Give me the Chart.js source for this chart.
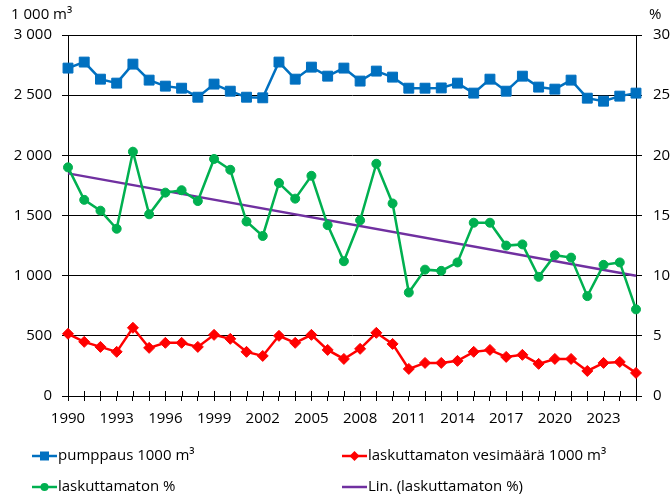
<!DOCTYPE html>
<html>
<head>
<meta charset="utf-8">
<script src="https://cdn.jsdelivr.net/npm/chart.js@4/dist/chart.umd.min.js"></script>
<style>
  html, body { margin: 0; padding: 0; background: #fff; }
  #wrap { width: 670px; height: 496px; position: relative; }
</style>
</head>
<body>
<div id="wrap"><canvas id="waterChart"></canvas></div>
<script>
// ---- data ----
const years = ['1990', '1991', '1992', '1993', '1994', '1995', '1996', '1997', '1998', '1999',
               '2000', '2001', '2002', '2003', '2004', '2005', '2006', '2007', '2008', '2009',
               '2010', '2011', '2012', '2013', '2014', '2015', '2016', '2017', '2018', '2019',
               '2020', '2021', '2022', '2023', '2024', '2025'];

// pumppaus, 1000 m3 (left axis)
const pumppaus = [2725, 2775, 2633, 2600, 2758, 2625, 2575, 2558, 2483, 2592,
                  2533, 2483, 2478, 2775, 2633, 2733, 2658, 2725, 2617, 2700,
                  2650, 2558, 2558, 2560, 2600, 2517, 2633, 2533, 2658, 2567,
                  2550, 2625, 2475, 2450, 2492, 2517];

// laskuttamaton vesimäärä, 1000 m3 (left axis)
const laskuttamatonMaara = [517, 450, 408, 367, 567, 400, 442, 442, 408, 508,
                            475, 367, 333, 500, 442, 508, 383, 308, 392, 525,
                            433, 225, 275, 275, 292, 367, 383, 325, 342, 267,
                            308, 308, 208, 275, 283, 192];

// laskuttamaton %, (right axis)
const laskuttamatonPct = [19.0, 16.3, 15.4, 13.9, 20.3, 15.1, 16.9, 17.1, 16.2, 19.7,
                          18.8, 14.5, 13.3, 17.7, 16.4, 18.3, 14.2, 11.2, 14.6, 19.3,
                          16.0, 8.6, 10.5, 10.4, 11.1, 14.4, 14.4, 12.5, 12.6, 9.9,
                          11.7, 11.5, 8.3, 10.9, 11.1, 7.2];

// linear trend line end points as drawn in the picture (%)
const trendYears = ['1990', '2025'];
const trendPct = [18.5, 10.0];

const leftTicks = [0, 500, 1000, 1500, 2000, 2500, 3000];
const rightTicks = [0, 5, 10, 15, 20, 25, 30];

const FONT = "'Open Sans', 'Noto Sans', sans-serif";
const BLUE = '#0070C0';
const RED = '#FF0000';
const GREEN = '#00B050';
const PURPLE = '#7030A0';

function fmtThousands(v) {
    return String(v).replace(/\B(?=(\d{3})+(?!\d))/g, ' ');
}

// axis unit labels above the plot + legend below it
const extrasPlugin = {
    id: 'extras',
    afterDraw(chart) {
        const ctx = chart.ctx;
        ctx.save();
        ctx.fillStyle = '#000';
        ctx.font = '15px ' + FONT;
        ctx.textBaseline = 'middle';
        ctx.textAlign = 'left';
        ctx.fillText('1 000 m³', 11, 15);
        ctx.fillText('%', 649, 15);

        // tick marks crossing the x axis
        const x = chart.scales.x;
        const yb = chart.chartArea.bottom;
        ctx.strokeStyle = '#000';
        ctx.lineWidth = 1;
        ctx.beginPath();
        for (let i = 0; i < years.length; i++) {
            const px = Math.round(x.getPixelForValue(i)) + 0.5;
            ctx.moveTo(px, yb - 5);
            ctx.lineTo(px, yb);
        }
        ctx.stroke();

        // legend
        const items = [
            { label: 'pumppaus 1000 m³', ds: 0, x: 32, y: 456 },
            { label: 'laskuttamaton vesimäärä 1000 m³', ds: 1, x: 342, y: 456 },
            { label: 'laskuttamaton %', ds: 2, x: 32, y: 487 },
            { label: 'Lin. (laskuttamaton %)', ds: 3, x: 342, y: 487 }
        ];
        items.forEach(it => {
            const ds = chart.data.datasets[it.ds];
            const cx = it.x + 12.5;
            ctx.strokeStyle = ds.borderColor;
            ctx.lineWidth = ds.borderWidth;
            ctx.beginPath();
            ctx.moveTo(it.x, it.y);
            ctx.lineTo(it.x + 25, it.y);
            ctx.stroke();
            if (ds.pointRadius > 0) {
                ctx.fillStyle = ds.pointBackgroundColor;
                ctx.beginPath();
                if (ds.pointStyle === 'rect') {
                    const s = 4.5;
                    ctx.rect(cx - s, it.y - s, 2 * s, 2 * s);
                } else if (ds.pointStyle === 'rectRot') {
                    const s = 5;
                    ctx.moveTo(cx, it.y - s);
                    ctx.lineTo(cx + s, it.y);
                    ctx.lineTo(cx, it.y + s);
                    ctx.lineTo(cx - s, it.y);
                    ctx.closePath();
                } else {
                    ctx.arc(cx, it.y, 4, 0, Math.PI * 2);
                }
                ctx.fill();
            }
            ctx.fillStyle = '#000';
            ctx.font = '15px ' + FONT;
            ctx.textAlign = 'left';
            ctx.textBaseline = 'middle';
            ctx.fillText(it.label, it.x + 26, it.y);
        });
        ctx.restore();
    }
};

const ctx = document.getElementById('waterChart');
new Chart(ctx, {
    type: 'line',
    data: {
        labels: years,
        datasets: [
            {
                label: 'pumppaus 1000 m³',
                data: pumppaus,
                yAxisID: 'y',
                borderColor: BLUE,
                backgroundColor: BLUE,
                borderWidth: 2.5,
                pointStyle: 'rect',
                pointRadius: 7,
                pointBackgroundColor: BLUE,
                pointBorderColor: BLUE,
                pointBorderWidth: 1,
                tension: 0
            },
            {
                label: 'laskuttamaton vesimäärä 1000 m³',
                data: laskuttamatonMaara,
                yAxisID: 'y',
                borderColor: RED,
                backgroundColor: RED,
                borderWidth: 2.5,
                pointStyle: 'rectRot',
                pointRadius: 5.5,
                pointBackgroundColor: RED,
                pointBorderColor: RED,
                pointBorderWidth: 1,
                tension: 0
            },
            {
                label: 'laskuttamaton %',
                data: laskuttamatonPct,
                yAxisID: 'y1',
                borderColor: GREEN,
                backgroundColor: GREEN,
                borderWidth: 2.5,
                pointStyle: 'circle',
                pointRadius: 4.5,
                pointBackgroundColor: GREEN,
                pointBorderColor: GREEN,
                pointBorderWidth: 1,
                tension: 0
            },
            {
                label: 'Lin. (laskuttamaton %)',
                data: trendYears.map((yr, i) => ({ x: yr, y: trendPct[i] })),
                yAxisID: 'y1',
                borderColor: PURPLE,
                backgroundColor: PURPLE,
                borderWidth: 2.5,
                pointRadius: 0,
                tension: 0
            }
        ]
    },
    options: {
        responsive: true,
        maintainAspectRatio: false,
        animation: false,
        layout: { padding: { top: 35, left: 0, right: 0, bottom: 0 } },
        plugins: {
            legend: { display: false },
            tooltip: { enabled: false }
        },
        scales: {
            x: {
                type: 'category',
                offset: false,
                afterFit: s => { s.height = 100; },
                grid: {
                    display: true,
                    drawOnChartArea: false,
                    color: '#000',
                    tickLength: 5
                },
                border: { color: '#000', width: 1 },
                ticks: {
                    autoSkip: false,
                    maxRotation: 0,
                    color: '#000',
                    padding: 9,
                    font: { family: FONT, size: 15 },
                    callback: function(value, index) {
                        return index % 3 === 0 ? years[index] : '';
                    }
                }
            },
            y: {
                position: 'left',
                min: 0,
                max: 3000,
                afterFit: s => { s.width = 68; },
                afterBuildTicks: s => { s.ticks = leftTicks.map(v => ({ value: v })); },
                grid: {
                    color: '#000',
                    lineWidth: 1,
                    tickLength: 6
                },
                border: { color: '#000', width: 1 },
                ticks: {
                    color: '#000',
                    padding: 10,
                    font: { family: FONT, size: 15 },
                    callback: v => fmtThousands(v)
                }
            },
            y1: {
                position: 'right',
                min: 0,
                max: 30,
                afterFit: s => { s.width = 34; },
                afterBuildTicks: s => { s.ticks = rightTicks.map(v => ({ value: v })); },
                grid: {
                    drawOnChartArea: false,
                    color: '#000',
                    tickLength: 6
                },
                border: { color: '#000', width: 1 },
                ticks: {
                    color: '#000',
                    padding: 11,
                    font: { family: FONT, size: 15 }
                }
            }
        }
    },
    plugins: [extrasPlugin]
});
</script>
</body>
</html>
